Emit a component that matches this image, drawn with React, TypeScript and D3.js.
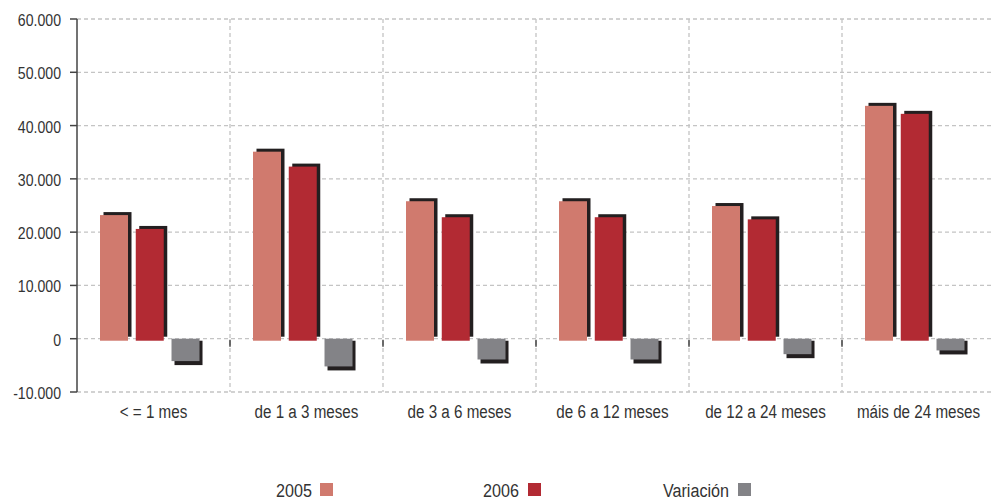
import React from "react";
import * as d3 from "d3";

const categories = ["< = 1 mes", "de 1 a 3 meses", "de 3 a 6 meses", "de 6 a 12 meses", "de 12 a 24 meses", "máis de 24 meses"];
const seriesNames = ["2005", "2006", "Variación"];
const values2005 = [23200, 35100, 25800, 25800, 24900, 43700];
const values2006 = [20600, 32300, 22800, 22800, 22400, 42200];
const valuesVar = [-4200, -5200, -3900, -3900, -2900, -2200];
const yTicks = [-10000, 0, 10000, 20000, 30000, 40000, 50000, 60000];
const colors = ["#d07a6e", "#b22a33", "#838387"];

const FONT = "'Liberation Sans', Arial, sans-serif";

function NText({ x, y, sx, size, anchor, children }: { x: number; y: number; sx: number; size: number; anchor: string; children: React.ReactNode }) {
  return (
    <text transform={`translate(${x},${y}) scale(${sx},1)`} textAnchor={anchor} fontSize={size} fill="#333" fontFamily={FONT}>
      {children}
    </text>
  );
}

export default function App() {
  const W = 994, H = 501;
  const left = 77, right = 995, top = 19, bottom = 392;
  const y = d3.scaleLinear().domain([-10000, 60000]).range([bottom, top]);
  const x = d3.scaleBand<string>().domain(categories).range([left, right]).padding(0);
  const inner = d3.scaleBand<string>().domain(seriesNames).range([0, x.bandwidth()])
    .paddingInner(0.217).paddingOuter(0.748).align(0.43);
  const data = [values2005, values2006, valuesVar];
  const fmt = (v: number) => v === 0 ? "0" : d3.format(",")(v).replace(/,/g, ".").replace("\u2212", "-");
  const y0 = y(0);
  const bw = inner.bandwidth();

  return (
    <svg width={W} height={H} style={{ position: "absolute", left: 0, top: 0 }} fontFamily={FONT}>
      <rect x={0} y={0} width={W} height={H} fill="#fff" />
      {yTicks.map((t) => (
        <line key={"h" + t} x1={left} x2={right} y1={y(t)} y2={y(t)} stroke="#c4c4c4" strokeWidth={1.3} strokeDasharray="4,3" />
      ))}
      {categories.slice(1).map((c) => (
        <line key={"v" + c} x1={x(c)!} x2={x(c)!} y1={top} y2={bottom} stroke="#c4c4c4" strokeWidth={1.3} strokeDasharray="4,3" />
      ))}
      {categories.slice(1).map((c) => (
        <line key={"zt" + c} x1={x(c)!} x2={x(c)!} y1={y0 + 1} y2={y0 + 8} stroke="#444" strokeWidth={1.5} />
      ))}
      {categories.map((c, ci) =>
        seriesNames.map((s, si) => {
          const v = data[si][ci];
          const bx = x(c)! + inner(s)!;
          const yv = y(v);
          if (v >= 0) {
            return (
              <g key={c + s}>
                <rect x={bx + 3.5} y={yv - 3} width={bw} height={y0 - 2 - (yv - 3)} fill="#231f20" />
                <rect x={bx} y={yv} width={bw} height={y0 + 2 - yv} fill={colors[si]} />
              </g>
            );
          }
          return (
            <g key={c + s}>
              <rect x={bx + 3} y={y0 + 2} width={bw} height={yv + 2 - y0} fill="#231f20" />
              <rect x={bx} y={y0} width={bw} height={yv - y0} fill={colors[si]} />
            </g>
          );
        })
      )}
      <line x1={left} x2={left} y1={top} y2={bottom} stroke="#444" strokeWidth={1.5} />
      {yTicks.map((t) => (
        <g key={"yt" + t}>
          <line x1={left - 7} x2={left} y1={y(t)} y2={y(t)} stroke="#444" strokeWidth={1.5} />
          <NText x={61} y={y(t) + 7} sx={0.83} size={17} anchor="end">{fmt(t)}</NText>
        </g>
      ))}
      {categories.map((c) => (
        <NText key={"xl" + c} x={x(c)! + x.bandwidth() / 2} y={417.5} sx={0.8} size={19} anchor="middle">{c}</NText>
      ))}
      {[
        { label: "2005", tx: 312, sx: 320 },
        { label: "2006", tx: 519, sx: 528 },
        { label: "Variación", tx: 729, sx: 738 },
      ].map((l, i) => (
        <g key={"lg" + i}>
          <NText x={l.tx} y={497} sx={0.85} size={19} anchor="end">{l.label}</NText>
          <rect x={l.sx} y={483} width={13} height={13} fill={colors[i]} />
        </g>
      ))}
    </svg>
  );
}
